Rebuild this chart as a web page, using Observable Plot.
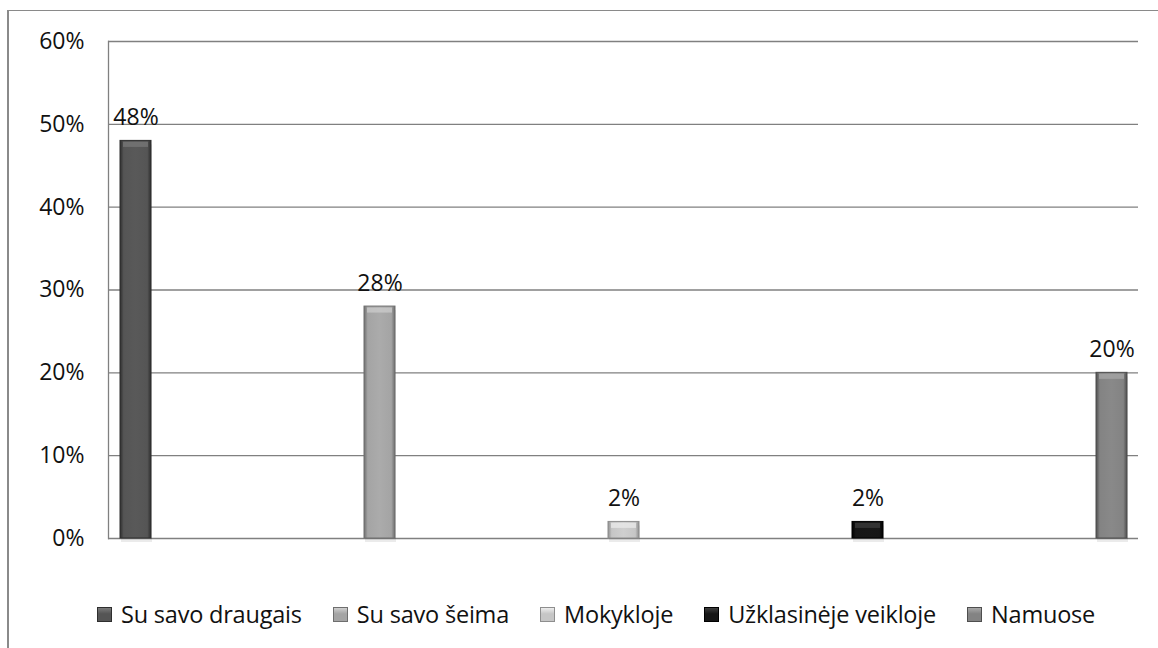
<!DOCTYPE html>
<html>
<head>
<meta charset="utf-8">
<script src="https://cdn.jsdelivr.net/npm/d3@7"></script>
<script src="https://cdn.jsdelivr.net/npm/@observablehq/plot@0.6"></script>
<style>
  html, body { margin: 0; padding: 0; background: #fff; }
  body { width: 1158px; height: 648px; position: relative; overflow: hidden; font-family: "Open Sans", sans-serif; }
  #frame { position: absolute; left: 7px; top: 10px; width: 1160px; height: 640px;
           border-left: 2px solid #8a8a8a; border-top: 1.5px solid #8a8a8a; box-sizing: border-box; }
  #chart { position: absolute; left: 0; top: 0; }
  #legend { position: absolute; left: 97px; top: 598px; display: flex; gap: 31px; align-items: center;
            font-size: 23.5px; color: #111; white-space: nowrap; letter-spacing: -0.2px; }
  .item { display: flex; align-items: center; gap: 9px; }
  .sw { width: 15px; height: 15px; box-sizing: border-box; }
</style>
</head>
<body>
<div id="frame"></div>
<div id="chart"></div>
<div id="legend"></div>
<script>
const categories = ["Su savo draugais", "Su savo šeima", "Mokykloje", "Užklasinėje veikloje", "Namuose"];
const values = [0.48, 0.28, 0.02, 0.02, 0.20];
const colors = ["#555555", "#a4a4a4", "#c6c6c6", "#161616", "#838383"];
const edgeColors = ["#2e2e2e", "#6e6e6e", "#8e8e8e", "#000000", "#4e4e4e"];
const topColors = ["#7a7a7a", "#cfcfcf", "#ededed", "#3e3e3e", "#a8a8a8"];
const yTicks = [0, 0.1, 0.2, 0.3, 0.4, 0.5, 0.6];

const data = categories.map((c, i) => ({cat: c, value: values[i], i}));
const fmt = d3.format(".0%");

const plot = Plot.plot({
  width: 1158,
  height: 590,
  marginLeft: 108,
  marginRight: 20,
  marginTop: 41,
  marginBottom: 52,
  style: {fontFamily: "Open Sans, sans-serif", fontSize: "23px", color: "#111", background: "transparent"},
  x: {type: "band", domain: categories, paddingInner: 0.873, paddingOuter: 0.045, axis: null},
  y: {domain: [0, 0.6], axis: null},
  color: {type: "identity"},
  marks: [
    Plot.gridY(yTicks, {stroke: "#808080", strokeOpacity: 1, strokeWidth: 1.3}),
    Plot.axisY(yTicks, {tickSize: 0, tickPadding: 24, tickFormat: fmt, fontSize: 23, fill: "#111", label: null}),
    Plot.frame({anchor: "left", stroke: "#808080", strokeWidth: 1.3}),
    // soft shadow under bars
    Plot.barY(data, {x: "cat", y: "value", fill: "#000", fillOpacity: 0.08, dy: 4, dx: 1}),
    Plot.barY(data, {x: "cat", y: "value", fill: d => `url(#g${d.i})`, stroke: d => edgeColors[d.i], strokeWidth: 1}),
    Plot.tickY(data, {x: "cat", y: "value", stroke: d => topColors[d.i], strokeWidth: 5, dy: 3.5, inset: 3, strokeOpacity: 0.7}),
    Plot.text(data, {x: "cat", y: "value", text: d => fmt(d.value), lineAnchor: "bottom", dy: -16, fontSize: 23, fill: "#111"})
  ]
});

// gradients for a beveled look
const svg = d3.select(plot);
const defs = svg.insert("defs", ":first-child");
colors.forEach((c, i) => {
  const g = defs.append("linearGradient").attr("id", `g${i}`).attr("x1", "0").attr("x2", "1").attr("y1", "0").attr("y2", "0");
  g.append("stop").attr("offset", "0").attr("stop-color", edgeColors[i]);
  g.append("stop").attr("offset", "0.12").attr("stop-color", c);
  g.append("stop").attr("offset", "0.5").attr("stop-color", d3.color(c).brighter(0.12).formatHex());
  g.append("stop").attr("offset", "0.88").attr("stop-color", c);
  g.append("stop").attr("offset", "1").attr("stop-color", edgeColors[i]);
});
document.getElementById("chart").appendChild(plot);

// legend
const legend = d3.select("#legend");
categories.forEach((c, i) => {
  const it = legend.append("div").attr("class", "item");
  it.append("div").attr("class", "sw")
    .style("background", `linear-gradient(to bottom, ${topColors[i]} 0%, ${colors[i]} 45%, ${colors[i]} 100%)`)
    .style("border", `1px solid ${edgeColors[i]}`);
  it.append("span").text(c);
});
</script>
</body>
</html>
